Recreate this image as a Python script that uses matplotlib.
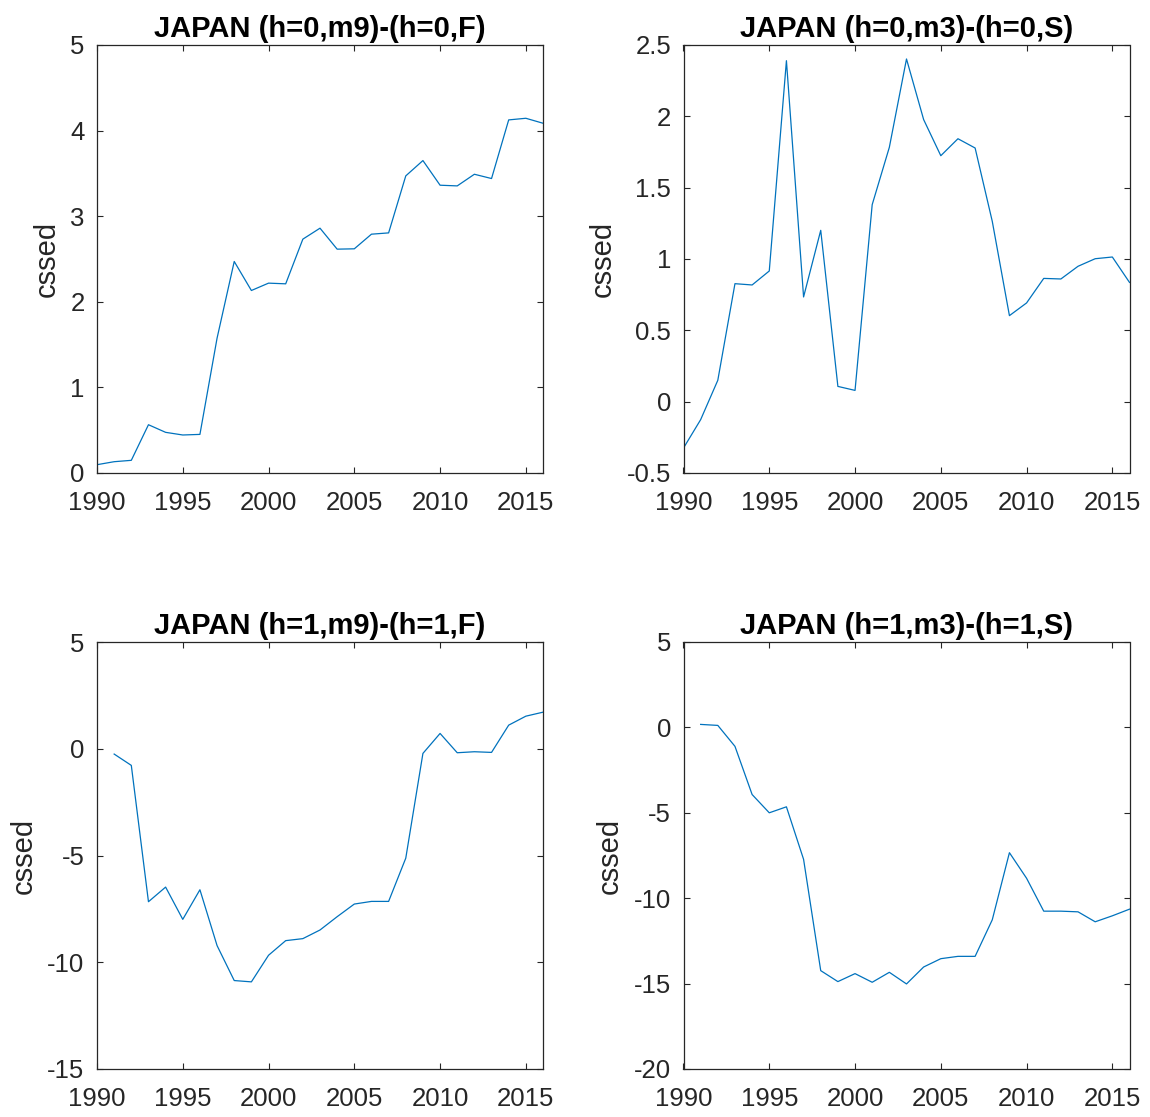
import matplotlib
matplotlib.use("Agg")
import matplotlib.pyplot as plt

years_tl = list(range(1990, 2017))
vals_tl = [0.097, 0.132, 0.148, 0.564, 0.475, 0.444, 0.451, 1.576, 2.471, 2.132,
           2.218, 2.210, 2.732, 2.860, 2.615, 2.619, 2.790, 2.805, 3.471, 3.650,
           3.362, 3.354, 3.490, 3.440, 4.125, 4.144, 4.086]

years_tr = list(range(1990, 2017))
vals_tr = [-0.325, -0.126, 0.150, 0.827, 0.818, 0.916, 2.390, 0.734, 1.201, 0.107,
           0.079, 1.381, 1.783, 2.402, 1.977, 1.724, 1.843, 1.778, 1.264, 0.603,
           0.692, 0.864, 0.860, 0.949, 1.002, 1.014, 0.836]

years_bl = list(range(1991, 2017))
vals_bl = [-0.249, -0.779, -7.165, -6.480, -7.991, -6.604, -9.221, -10.857, -10.919,
           -9.673, -8.988, -8.894, -8.489, -7.866, -7.274, -7.150, -7.150, -5.125,
           -0.218, 0.717, -0.187, -0.140, -0.171, 1.106, 1.526, 1.713]

years_br = list(range(1991, 2017))
vals_br = [0.175, 0.117, -1.109, -3.930, -5.000, -4.650, -7.724, -14.241, -14.883,
           -14.416, -14.922, -14.339, -15.020, -14.027, -13.541, -13.405, -13.405,
           -11.265, -7.335, -8.833, -10.759, -10.759, -10.798, -11.381, -11.031, -10.642]

titles = ["JAPAN (h=0,m9)-(h=0,F)", "JAPAN (h=0,m3)-(h=0,S)",
          "JAPAN (h=1,m9)-(h=1,F)", "JAPAN (h=1,m3)-(h=1,S)"]
xticks = [1990, 1995, 2000, 2005, 2010, 2015]
yticks_tl = [0, 1, 2, 3, 4, 5]
yticks_tr = [-0.5, 0, 0.5, 1, 1.5, 2, 2.5]
ytl_tr = ["-0.5", "0", "0.5", "1", "1.5", "2", "2.5"]
yticks_bl = [-15, -10, -5, 0, 5]
yticks_br = [-20, -15, -10, -5, 0, 5]

plt.rcParams['font.family'] = ['Liberation Sans', 'DejaVu Sans']
plt.rcParams['axes.unicode_minus'] = False
W, H = 1150, 1117
fig = plt.figure(figsize=(W / 100, H / 100), dpi=100)

axcol = '#262626'
line_col = '#0072BD'

def make_ax(px_left, px_top, px_right, px_bottom):
    return fig.add_axes([px_left / W, 1 - px_bottom / H,
                         (px_right - px_left) / W, (px_bottom - px_top) / H])

specs = [
    (97, 45, 543, 473, years_tl, vals_tl, (0, 5), yticks_tl, None, titles[0]),
    (683.5, 45, 1129.5, 473, years_tr, vals_tr, (-0.5, 2.5), yticks_tr, ytl_tr, titles[1]),
    (97, 642, 543, 1069, years_bl, vals_bl, (-15, 5), yticks_bl, None, titles[2]),
    (683.5, 642, 1129.5, 1069, years_br, vals_br, (-20, 5), yticks_br, None, titles[3]),
]

for (l, t, r, b, xs, ys, ylim, yt, ytl, title) in specs:
    ax = make_ax(l, t, r, b)
    ax.plot(xs, ys, color=line_col, lw=0.9)
    ax.set_xlim(1990, 2016)
    ax.set_ylim(*ylim)
    ax.set_xticks(xticks)
    ax.set_yticks(yt)
    if ytl is not None:
        ax.set_yticklabels(ytl)
    ax.tick_params(direction='in', length=4.5, width=0.8, colors=axcol,
                   labelsize=18.5, top=True, right=True, pad=9)
    ax.tick_params(axis='x', pad=13)
    for s in ax.spines.values():
        s.set_color(axcol)
        s.set_linewidth(0.9)
    ax.set_ylabel("cssed", fontsize=21, color=axcol, labelpad=7)
    ax.set_title(title, fontsize=21, fontweight='bold', color='black', pad=6)

fig.savefig("out.png", dpi=100)
